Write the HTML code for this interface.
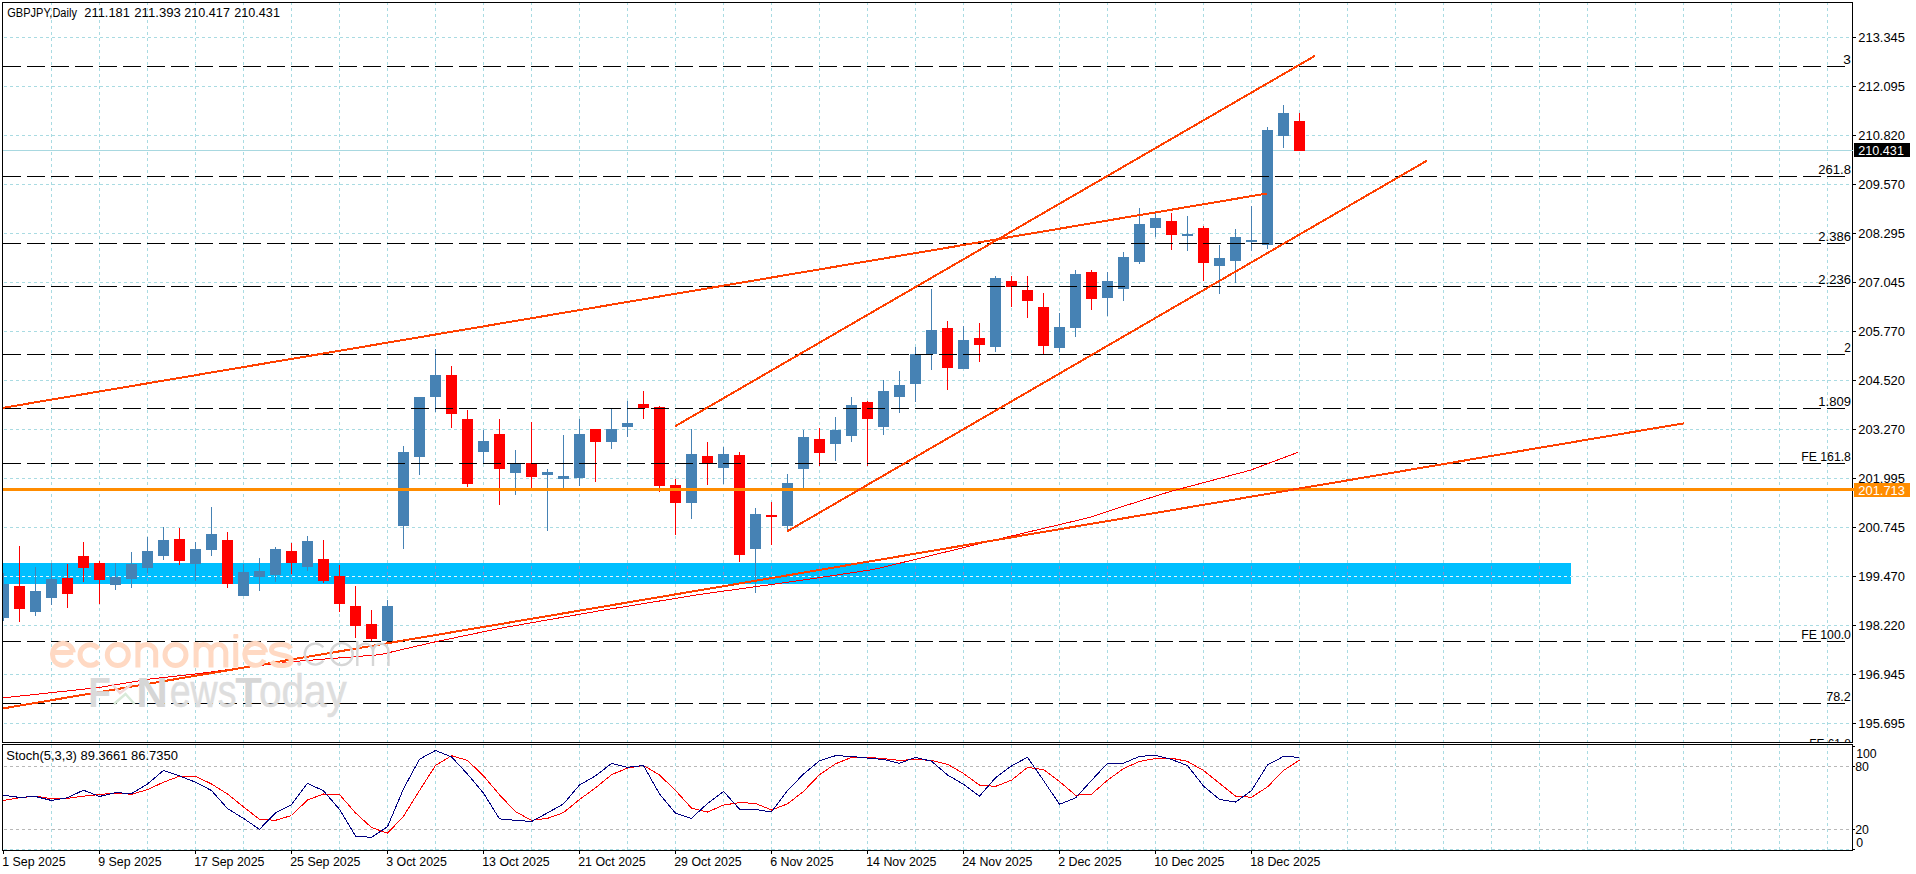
<!DOCTYPE html><html><head><meta charset="utf-8"><style>html,body{margin:0;padding:0;background:#fff;width:1916px;height:874px;overflow:hidden}svg{display:block}text{font-family:"Liberation Sans", sans-serif}</style></head><body>
<svg width="1916" height="874" viewBox="0 0 1916 874">
<defs><clipPath id="cm"><rect x="3" y="3" width="1849" height="739"/></clipPath><clipPath id="cs"><rect x="3" y="745" width="1849" height="105"/></clipPath></defs>
<rect x="0" y="0" width="1916" height="874" fill="#fff"/>
<g clip-path="url(#cm)">
<path d="M4 37.5H1852M4 86.5H1852M4 135.5H1852M4 184.5H1852M4 233.5H1852M4 282.5H1852M4 331.5H1852M4 380.5H1852M4 429.5H1852M4 478.5H1852M4 527.5H1852M4 576.5H1852M4 625.5H1852M4 674.5H1852M4 723.5H1852" stroke="#a9dbe2" stroke-width="1" stroke-dasharray="3 3" fill="none" shape-rendering="crispEdges"/>
<path d="M51.5 2V742M99.5 2V742M147.5 2V742M195.5 2V742M243.5 2V742M291.5 2V742M339.5 2V742M387.5 2V742M435.5 2V742M483.5 2V742M531.5 2V742M579.5 2V742M627.5 2V742M675.5 2V742M723.5 2V742M771.5 2V742M819.5 2V742M867.5 2V742M915.5 2V742M963.5 2V742M1011.5 2V742M1059.5 2V742M1107.5 2V742M1155.5 2V742M1203.5 2V742M1251.5 2V742M1299.5 2V742M1347.5 2V742M1395.5 2V742M1443.5 2V742M1491.5 2V742M1539.5 2V742M1587.5 2V742M1635.5 2V742M1683.5 2V742M1731.5 2V742M1779.5 2V742M1827.5 2V742" stroke="#a9dbe2" stroke-width="1" stroke-dasharray="3 3" fill="none" shape-rendering="crispEdges"/>
<rect x="3" y="563" width="1568" height="21" fill="#00bfff"/>
<path d="M4 576.5H1571" stroke="#e4f6ff" stroke-width="1" stroke-dasharray="3 3" fill="none" shape-rendering="crispEdges"/>
<path d="M51.5 563V584M99.5 563V584M147.5 563V584M195.5 563V584M243.5 563V584M291.5 563V584M339.5 563V584M387.5 563V584M435.5 563V584M483.5 563V584M531.5 563V584M579.5 563V584M627.5 563V584M675.5 563V584M723.5 563V584M771.5 563V584M819.5 563V584M867.5 563V584M915.5 563V584M963.5 563V584M1011.5 563V584M1059.5 563V584M1107.5 563V584M1155.5 563V584M1203.5 563V584M1251.5 563V584M1299.5 563V584M1347.5 563V584M1395.5 563V584M1443.5 563V584M1491.5 563V584M1539.5 563V584" stroke="#7f8fd0" stroke-width="1" stroke-dasharray="3 3" stroke-dashoffset="3" fill="none" shape-rendering="crispEdges"/>
<path d="M3 150.5H1852" stroke="#a8d8e0" stroke-width="1" shape-rendering="crispEdges"/>
<rect x="3" y="573" width="1" height="48" fill="#4682b4"/>
<rect x="-2" y="584" width="11" height="34" fill="#4682b4"/>
<rect x="19" y="546" width="1" height="76" fill="#ff0000"/>
<rect x="14" y="586" width="11" height="23" fill="#ff0000"/>
<rect x="35" y="567" width="1" height="49" fill="#4682b4"/>
<rect x="30" y="591" width="11" height="21" fill="#4682b4"/>
<rect x="51" y="563" width="1" height="42" fill="#4682b4"/>
<rect x="46" y="579" width="11" height="19" fill="#4682b4"/>
<rect x="67" y="564" width="1" height="44" fill="#ff0000"/>
<rect x="62" y="578" width="11" height="16" fill="#ff0000"/>
<rect x="83" y="542" width="1" height="40" fill="#ff0000"/>
<rect x="78" y="556" width="11" height="12" fill="#ff0000"/>
<rect x="99" y="561" width="1" height="43" fill="#ff0000"/>
<rect x="94" y="563" width="11" height="17" fill="#ff0000"/>
<rect x="115" y="563" width="1" height="27" fill="#4682b4"/>
<rect x="110" y="577" width="11" height="8" fill="#4682b4"/>
<rect x="131" y="552" width="1" height="36" fill="#4682b4"/>
<rect x="126" y="564" width="11" height="15" fill="#4682b4"/>
<rect x="147" y="537" width="1" height="36" fill="#4682b4"/>
<rect x="142" y="551" width="11" height="17" fill="#4682b4"/>
<rect x="163" y="527" width="1" height="33" fill="#4682b4"/>
<rect x="158" y="540" width="11" height="16" fill="#4682b4"/>
<rect x="179" y="528" width="1" height="37" fill="#ff0000"/>
<rect x="174" y="539" width="11" height="22" fill="#ff0000"/>
<rect x="195" y="542" width="1" height="39" fill="#4682b4"/>
<rect x="190" y="549" width="11" height="15" fill="#4682b4"/>
<rect x="211" y="507" width="1" height="49" fill="#4682b4"/>
<rect x="206" y="534" width="11" height="16" fill="#4682b4"/>
<rect x="227" y="532" width="1" height="56" fill="#ff0000"/>
<rect x="222" y="540" width="11" height="44" fill="#ff0000"/>
<rect x="243" y="564" width="1" height="32" fill="#4682b4"/>
<rect x="238" y="572" width="11" height="24" fill="#4682b4"/>
<rect x="259" y="558" width="1" height="33" fill="#4682b4"/>
<rect x="254" y="571" width="11" height="6" fill="#4682b4"/>
<rect x="275" y="547" width="1" height="35" fill="#4682b4"/>
<rect x="270" y="549" width="11" height="26" fill="#4682b4"/>
<rect x="291" y="543" width="1" height="31" fill="#ff0000"/>
<rect x="286" y="551" width="11" height="12" fill="#ff0000"/>
<rect x="307" y="536" width="1" height="35" fill="#4682b4"/>
<rect x="302" y="541" width="11" height="26" fill="#4682b4"/>
<rect x="323" y="540" width="1" height="43" fill="#ff0000"/>
<rect x="318" y="559" width="11" height="22" fill="#ff0000"/>
<rect x="339" y="565" width="1" height="47" fill="#ff0000"/>
<rect x="334" y="576" width="11" height="28" fill="#ff0000"/>
<rect x="355" y="586" width="1" height="52" fill="#ff0000"/>
<rect x="350" y="606" width="11" height="20" fill="#ff0000"/>
<rect x="371" y="610" width="1" height="31" fill="#ff0000"/>
<rect x="366" y="624" width="11" height="15" fill="#ff0000"/>
<rect x="387" y="600" width="1" height="41" fill="#4682b4"/>
<rect x="382" y="606" width="11" height="35" fill="#4682b4"/>
<rect x="403" y="446" width="1" height="103" fill="#4682b4"/>
<rect x="398" y="452" width="11" height="74" fill="#4682b4"/>
<rect x="419" y="397" width="1" height="78" fill="#4682b4"/>
<rect x="414" y="397" width="11" height="60" fill="#4682b4"/>
<rect x="435" y="349" width="1" height="63" fill="#4682b4"/>
<rect x="430" y="375" width="11" height="22" fill="#4682b4"/>
<rect x="451" y="366" width="1" height="62" fill="#ff0000"/>
<rect x="446" y="375" width="11" height="39" fill="#ff0000"/>
<rect x="467" y="410" width="1" height="77" fill="#ff0000"/>
<rect x="462" y="419" width="11" height="65" fill="#ff0000"/>
<rect x="483" y="430" width="1" height="34" fill="#4682b4"/>
<rect x="478" y="441" width="11" height="11" fill="#4682b4"/>
<rect x="499" y="419" width="1" height="86" fill="#ff0000"/>
<rect x="494" y="434" width="11" height="35" fill="#ff0000"/>
<rect x="515" y="450" width="1" height="45" fill="#4682b4"/>
<rect x="510" y="464" width="11" height="9" fill="#4682b4"/>
<rect x="531" y="422" width="1" height="67" fill="#ff0000"/>
<rect x="526" y="463" width="11" height="14" fill="#ff0000"/>
<rect x="547" y="469" width="1" height="62" fill="#4682b4"/>
<rect x="542" y="472" width="11" height="3" fill="#4682b4"/>
<rect x="563" y="435" width="1" height="53" fill="#4682b4"/>
<rect x="558" y="476" width="11" height="3" fill="#4682b4"/>
<rect x="579" y="419" width="1" height="67" fill="#4682b4"/>
<rect x="574" y="434" width="11" height="44" fill="#4682b4"/>
<rect x="595" y="429" width="1" height="53" fill="#ff0000"/>
<rect x="590" y="429" width="11" height="13" fill="#ff0000"/>
<rect x="611" y="409" width="1" height="40" fill="#4682b4"/>
<rect x="606" y="429" width="11" height="13" fill="#4682b4"/>
<rect x="627" y="401" width="1" height="36" fill="#4682b4"/>
<rect x="622" y="423" width="11" height="4" fill="#4682b4"/>
<rect x="643" y="391" width="1" height="28" fill="#ff0000"/>
<rect x="638" y="404" width="11" height="4" fill="#ff0000"/>
<rect x="659" y="406" width="1" height="86" fill="#ff0000"/>
<rect x="654" y="407" width="11" height="79" fill="#ff0000"/>
<rect x="675" y="479" width="1" height="56" fill="#ff0000"/>
<rect x="670" y="485" width="11" height="18" fill="#ff0000"/>
<rect x="691" y="429" width="1" height="90" fill="#4682b4"/>
<rect x="686" y="454" width="11" height="49" fill="#4682b4"/>
<rect x="707" y="442" width="1" height="43" fill="#ff0000"/>
<rect x="702" y="456" width="11" height="7" fill="#ff0000"/>
<rect x="723" y="447" width="1" height="37" fill="#4682b4"/>
<rect x="718" y="454" width="11" height="14" fill="#4682b4"/>
<rect x="739" y="452" width="1" height="110" fill="#ff0000"/>
<rect x="734" y="455" width="11" height="100" fill="#ff0000"/>
<rect x="755" y="508" width="1" height="85" fill="#4682b4"/>
<rect x="750" y="514" width="11" height="35" fill="#4682b4"/>
<rect x="771" y="502" width="1" height="43" fill="#ff0000"/>
<rect x="766" y="515" width="11" height="2" fill="#ff0000"/>
<rect x="787" y="474" width="1" height="58" fill="#4682b4"/>
<rect x="782" y="483" width="11" height="43" fill="#4682b4"/>
<rect x="803" y="430" width="1" height="58" fill="#4682b4"/>
<rect x="798" y="437" width="11" height="32" fill="#4682b4"/>
<rect x="819" y="428" width="1" height="38" fill="#ff0000"/>
<rect x="814" y="439" width="11" height="14" fill="#ff0000"/>
<rect x="835" y="417" width="1" height="44" fill="#4682b4"/>
<rect x="830" y="430" width="11" height="14" fill="#4682b4"/>
<rect x="851" y="397" width="1" height="45" fill="#4682b4"/>
<rect x="846" y="405" width="11" height="31" fill="#4682b4"/>
<rect x="867" y="401" width="1" height="65" fill="#ff0000"/>
<rect x="862" y="402" width="11" height="17" fill="#ff0000"/>
<rect x="883" y="380" width="1" height="55" fill="#4682b4"/>
<rect x="878" y="391" width="11" height="36" fill="#4682b4"/>
<rect x="899" y="371" width="1" height="42" fill="#4682b4"/>
<rect x="894" y="385" width="11" height="12" fill="#4682b4"/>
<rect x="915" y="347" width="1" height="55" fill="#4682b4"/>
<rect x="910" y="354" width="11" height="30" fill="#4682b4"/>
<rect x="931" y="289" width="1" height="81" fill="#4682b4"/>
<rect x="926" y="330" width="11" height="24" fill="#4682b4"/>
<rect x="947" y="321" width="1" height="69" fill="#ff0000"/>
<rect x="942" y="328" width="11" height="40" fill="#ff0000"/>
<rect x="963" y="326" width="1" height="43" fill="#4682b4"/>
<rect x="958" y="340" width="11" height="29" fill="#4682b4"/>
<rect x="979" y="323" width="1" height="39" fill="#ff0000"/>
<rect x="974" y="338" width="11" height="7" fill="#ff0000"/>
<rect x="995" y="276" width="1" height="76" fill="#4682b4"/>
<rect x="990" y="278" width="11" height="69" fill="#4682b4"/>
<rect x="1011" y="276" width="1" height="31" fill="#ff0000"/>
<rect x="1006" y="281" width="11" height="6" fill="#ff0000"/>
<rect x="1027" y="276" width="1" height="42" fill="#ff0000"/>
<rect x="1022" y="290" width="11" height="11" fill="#ff0000"/>
<rect x="1043" y="293" width="1" height="61" fill="#ff0000"/>
<rect x="1038" y="307" width="11" height="39" fill="#ff0000"/>
<rect x="1059" y="313" width="1" height="39" fill="#4682b4"/>
<rect x="1054" y="327" width="11" height="21" fill="#4682b4"/>
<rect x="1075" y="270" width="1" height="67" fill="#4682b4"/>
<rect x="1070" y="274" width="11" height="54" fill="#4682b4"/>
<rect x="1091" y="270" width="1" height="40" fill="#ff0000"/>
<rect x="1086" y="272" width="11" height="27" fill="#ff0000"/>
<rect x="1107" y="272" width="1" height="44" fill="#4682b4"/>
<rect x="1102" y="281" width="11" height="17" fill="#4682b4"/>
<rect x="1123" y="252" width="1" height="49" fill="#4682b4"/>
<rect x="1118" y="257" width="11" height="32" fill="#4682b4"/>
<rect x="1139" y="208" width="1" height="56" fill="#4682b4"/>
<rect x="1134" y="224" width="11" height="38" fill="#4682b4"/>
<rect x="1155" y="213" width="1" height="24" fill="#4682b4"/>
<rect x="1150" y="218" width="11" height="10" fill="#4682b4"/>
<rect x="1171" y="213" width="1" height="37" fill="#ff0000"/>
<rect x="1166" y="221" width="11" height="14" fill="#ff0000"/>
<rect x="1187" y="216" width="1" height="35" fill="#4682b4"/>
<rect x="1182" y="234" width="11" height="2" fill="#4682b4"/>
<rect x="1203" y="226" width="1" height="55" fill="#ff0000"/>
<rect x="1198" y="228" width="11" height="35" fill="#ff0000"/>
<rect x="1219" y="245" width="1" height="49" fill="#4682b4"/>
<rect x="1214" y="258" width="11" height="8" fill="#4682b4"/>
<rect x="1235" y="229" width="1" height="54" fill="#4682b4"/>
<rect x="1230" y="237" width="11" height="24" fill="#4682b4"/>
<rect x="1251" y="206" width="1" height="45" fill="#4682b4"/>
<rect x="1246" y="240" width="11" height="2" fill="#4682b4"/>
<rect x="1267" y="127" width="1" height="122" fill="#4682b4"/>
<rect x="1262" y="130" width="11" height="115" fill="#4682b4"/>
<rect x="1283" y="105" width="1" height="43" fill="#4682b4"/>
<rect x="1278" y="113" width="11" height="23" fill="#4682b4"/>
<rect x="1299" y="113" width="1" height="38" fill="#ff0000"/>
<rect x="1294" y="121" width="11" height="30" fill="#ff0000"/>
<path d="M3 66.5H1845M3 176.5H1845M3 243.5H1845M3 286.5H1845M3 354.5H1845M3 408.5H1845M3 463.5H1845M3 641.5H1845M3 703.5H1845M3 750.5H1845" stroke="#000" stroke-width="1" stroke-dasharray="18 6" fill="none" shape-rendering="crispEdges"/>
<text x="1843.3" y="64" font-size="12.3" fill="#000" textLength="7.6" lengthAdjust="spacingAndGlyphs">3</text>
<text x="1818.3" y="174" font-size="12.3" fill="#000" textLength="32.6" lengthAdjust="spacingAndGlyphs">261.8</text>
<text x="1818.3" y="241" font-size="12.3" fill="#000" textLength="32.6" lengthAdjust="spacingAndGlyphs">2.386</text>
<text x="1818.3" y="284" font-size="12.3" fill="#000" textLength="32.6" lengthAdjust="spacingAndGlyphs">2.236</text>
<text x="1844.3" y="352" font-size="12.3" fill="#000" textLength="6.6" lengthAdjust="spacingAndGlyphs">2</text>
<text x="1818.3" y="406" font-size="12.3" fill="#000" textLength="32.6" lengthAdjust="spacingAndGlyphs">1.809</text>
<text x="1801.3" y="461" font-size="12.3" fill="#000" textLength="49.6" lengthAdjust="spacingAndGlyphs">FE 161.8</text>
<text x="1801.3" y="639" font-size="12.3" fill="#000" textLength="49.6" lengthAdjust="spacingAndGlyphs">FE 100.0</text>
<text x="1826.3" y="701" font-size="12.3" fill="#000" textLength="24.6" lengthAdjust="spacingAndGlyphs">78.2</text>
<text x="1809.3" y="748" font-size="12.3" fill="#000" textLength="41.6" lengthAdjust="spacingAndGlyphs">FE 61.8</text>
<rect x="3" y="488" width="1849" height="3" fill="#ff8c00"/>
<polyline points="2,698 100,687.4 150,679 200,673.5 250,666.5 300,661 380,654.7 435,641.9 500,628.3 600,610.7 700,594.4 800,580.5 870,570 880,568 1000,538.7 1090,517.4 1120,507.3 1170,491.6 1250,470.3 1298,452.3" stroke="#ff0000" stroke-width="1" fill="none" shape-rendering="crispEdges"/>
<line x1="2" y1="408" x2="1267" y2="193.5" stroke="#ff4000" stroke-width="2" stroke-linecap="butt" shape-rendering="crispEdges"/>
<line x1="675" y1="426.3" x2="1315" y2="55.8" stroke="#ff4000" stroke-width="2" stroke-linecap="butt" shape-rendering="crispEdges"/>
<line x1="787.3" y1="531.3" x2="1427" y2="160.6" stroke="#ff4000" stroke-width="2" stroke-linecap="butt" shape-rendering="crispEdges"/>
<line x1="2" y1="708.6" x2="1683.8" y2="423.3" stroke="#ff4000" stroke-width="2" stroke-linecap="butt" shape-rendering="crispEdges"/>
</g>
<path d="M52.6 652.5H73.2M73.2 652.5A10.3 10.3 0 0 0 52.6 655A10.3 10.3 0 0 0 71.9944 659.836M98.4165 648.659A10.3 10.3 0 1 0 98.4165 661.341M107.3 655A10.5 10.5 0 1 0 128.3 655A10.5 10.5 0 1 0 107.3 655M137.9 667.5V642.1M137.9 652.6A8.9 8 0 0 1 155.7 652.6V667.5M165 655A10.5 10.5 0 1 0 186 655A10.5 10.5 0 1 0 165 655M196.1 667.5V642.1M196.1 652.1A7.45 7.5 0 0 1 211 652.1V667.5M211 652.1A7.4 7.5 0 0 1 225.8 652.1V667.5M235.75 642.5V667.5M244.9 652.5H265.5M265.5 652.5A10.3 10.3 0 0 0 244.9 655A10.3 10.3 0 0 0 264.294 659.836M290.7 648.6C288.7 644.6 284.7 644.6 281.35 644.6C273 644.6 271.5 647.6 271.5 650.1C271.5 656 291.2 654 291.2 659.9C291.2 663.4 288.7 665.4 281.35 665.4C276 665.4 273 663.9 271.5 661.4" stroke="#ffd9c3" stroke-width="5" fill="none"/>
<rect x="233.3" y="634" width="5" height="4.5" rx="1" fill="#ffd9c3"/>
<path d="M323.343 647.351A10.5 10.5 0 1 0 323.343 660.849M330.7 654.1A11 11 0 1 0 352.7 654.1A11 11 0 1 0 330.7 654.1M357.3 666V641.1M357.3 651.6A7.85 8 0 0 1 373 651.6V666M373 651.6A7.75 8 0 0 1 388.5 651.6V666" stroke="#d6d6d6" stroke-width="2.4" fill="none"/>
<circle cx="299.3" cy="663.8" r="2.1" fill="#d6d6d6"/>
<text x="88.3" y="707.3" font-size="43" fill="#dadada" textLength="22.6" lengthAdjust="spacingAndGlyphs" font-weight="bold">F</text>
<text x="136.3" y="707.3" font-size="43" fill="#d6d6d6" textLength="31.6" lengthAdjust="spacingAndGlyphs" font-weight="bold">N</text>
<text x="169.8" y="707.3" font-size="45.5" fill="#dedede" textLength="66.6" lengthAdjust="spacingAndGlyphs" stroke="#dedede" stroke-width="0.5">ews</text>
<text x="235.3" y="707.3" font-size="43" fill="#d6d6d6" textLength="26.6" lengthAdjust="spacingAndGlyphs" font-weight="bold">T</text>
<text x="258.9" y="707.3" font-size="45.5" fill="#dedede" textLength="87.8" lengthAdjust="spacingAndGlyphs" stroke="#dedede" stroke-width="0.5">oday</text>
<path d="M112 684L120 693L132 684" stroke="#f1d8d8" stroke-width="2.5" fill="none"/>
<path d="M114 704L125.5 694L134.5 704" stroke="#d9ead9" stroke-width="2.5" fill="none"/>
<text x="7.3" y="17" font-size="12.3" fill="#000" textLength="69.6" lengthAdjust="spacingAndGlyphs">GBPJPY,Daily</text>
<text x="84.3" y="17" font-size="12.3" fill="#000" textLength="45.6" lengthAdjust="spacingAndGlyphs">211.181</text>
<text x="134.3" y="17" font-size="12.3" fill="#000" textLength="46.6" lengthAdjust="spacingAndGlyphs">211.393</text>
<text x="184.3" y="17" font-size="12.3" fill="#000" textLength="45.6" lengthAdjust="spacingAndGlyphs">210.417</text>
<text x="234.3" y="17" font-size="12.3" fill="#000" textLength="45.6" lengthAdjust="spacingAndGlyphs">210.431</text>
<path d="M2.5 2.5H1852.5V742.5H2.5Z M2.5 744.5H1852.5V850.5H2.5Z" stroke="#000" stroke-width="1" fill="none" shape-rendering="crispEdges"/>
<text x="1858.3" y="42" font-size="12.3" fill="#000" textLength="46.6" lengthAdjust="spacingAndGlyphs">213.345</text>
<text x="1858.3" y="91" font-size="12.3" fill="#000" textLength="46.6" lengthAdjust="spacingAndGlyphs">212.095</text>
<text x="1858.3" y="140" font-size="12.3" fill="#000" textLength="46.6" lengthAdjust="spacingAndGlyphs">210.820</text>
<text x="1858.3" y="189" font-size="12.3" fill="#000" textLength="46.6" lengthAdjust="spacingAndGlyphs">209.570</text>
<text x="1858.3" y="238" font-size="12.3" fill="#000" textLength="46.6" lengthAdjust="spacingAndGlyphs">208.295</text>
<text x="1858.3" y="287" font-size="12.3" fill="#000" textLength="46.6" lengthAdjust="spacingAndGlyphs">207.045</text>
<text x="1858.3" y="336" font-size="12.3" fill="#000" textLength="46.6" lengthAdjust="spacingAndGlyphs">205.770</text>
<text x="1858.3" y="385" font-size="12.3" fill="#000" textLength="46.6" lengthAdjust="spacingAndGlyphs">204.520</text>
<text x="1858.3" y="434" font-size="12.3" fill="#000" textLength="46.6" lengthAdjust="spacingAndGlyphs">203.270</text>
<text x="1858.3" y="483" font-size="12.3" fill="#000" textLength="46.6" lengthAdjust="spacingAndGlyphs">201.995</text>
<text x="1858.3" y="532" font-size="12.3" fill="#000" textLength="46.6" lengthAdjust="spacingAndGlyphs">200.745</text>
<text x="1858.3" y="581" font-size="12.3" fill="#000" textLength="46.6" lengthAdjust="spacingAndGlyphs">199.470</text>
<text x="1858.3" y="630" font-size="12.3" fill="#000" textLength="46.6" lengthAdjust="spacingAndGlyphs">198.220</text>
<text x="1858.3" y="679" font-size="12.3" fill="#000" textLength="46.6" lengthAdjust="spacingAndGlyphs">196.945</text>
<text x="1858.3" y="728" font-size="12.3" fill="#000" textLength="46.6" lengthAdjust="spacingAndGlyphs">195.695</text>
<path d="M1853 37.5H1856M1853 86.5H1856M1853 135.5H1856M1853 184.5H1856M1853 233.5H1856M1853 282.5H1856M1853 331.5H1856M1853 380.5H1856M1853 429.5H1856M1853 478.5H1856M1853 527.5H1856M1853 576.5H1856M1853 625.5H1856M1853 674.5H1856M1853 723.5H1856" stroke="#000" stroke-width="1" shape-rendering="crispEdges"/>
<rect x="1851" y="150" width="2" height="1" fill="#a8d8e0"/>
<rect x="1851" y="488" width="3" height="3" fill="#ff8c00"/>
<rect x="1854" y="143" width="56" height="14" fill="#000"/>
<text x="1858.3" y="155" font-size="12.3" fill="#fff" textLength="45.6" lengthAdjust="spacingAndGlyphs">210.431</text>
<rect x="1854" y="483" width="56" height="14" fill="#ff8c00"/>
<text x="1858.3" y="495" font-size="12.3" fill="#fff" textLength="46.6" lengthAdjust="spacingAndGlyphs">201.713</text>
<g clip-path="url(#cs)">
<path d="M51.5 745V850M99.5 745V850M147.5 745V850M195.5 745V850M243.5 745V850M291.5 745V850M339.5 745V850M387.5 745V850M435.5 745V850M483.5 745V850M531.5 745V850M579.5 745V850M627.5 745V850M675.5 745V850M723.5 745V850M771.5 745V850M819.5 745V850M867.5 745V850M915.5 745V850M963.5 745V850M1011.5 745V850M1059.5 745V850M1107.5 745V850M1155.5 745V850M1203.5 745V850M1251.5 745V850M1299.5 745V850M1347.5 745V850M1395.5 745V850M1443.5 745V850M1491.5 745V850M1539.5 745V850M1587.5 745V850M1635.5 745V850M1683.5 745V850M1731.5 745V850M1779.5 745V850M1827.5 745V850" stroke="#a9dbe2" stroke-width="1" stroke-dasharray="3 3" fill="none" shape-rendering="crispEdges"/>
<path d="M4 849.5H1852" stroke="#a9dbe2" stroke-width="1" stroke-dasharray="3 3" fill="none" shape-rendering="crispEdges"/>
<path d="M4 766.5H1852M4 829.5H1852" stroke="#b8b8b8" stroke-width="1" stroke-dasharray="3 3" fill="none" shape-rendering="crispEdges"/>
<polyline points="3.5,800.5 19.5,797.7 35.5,796.2 51.5,798.8 67.5,798.3 83.5,796.2 99.5,794.5 115.5,793.1 131.5,794.3 147.5,789.6 163.5,782.2 179.5,776.2 195.5,776.2 211.5,784 227.5,794 243.5,806.9 259.5,819.3 275.5,820.3 291.5,815.5 307.5,800 323.5,794 339.5,794.5 355.5,812.9 371.5,827.5 387.5,833.2 403.5,816.3 419.5,790.5 435.5,765.5 451.5,755.7 467.5,760.4 483.5,775.9 499.5,794.8 515.5,811.7 531.5,820.3 547.5,818.4 563.5,812.6 579.5,799.5 595.5,787.9 611.5,774.7 627.5,768.1 643.5,765.5 659.5,775 675.5,790.5 691.5,808.1 707.5,812 723.5,805.1 739.5,802.6 755.5,803.4 771.5,810 787.5,803.9 803.5,791.4 819.5,774.7 835.5,763.8 851.5,757.4 867.5,757.3 883.5,758.6 899.5,760.4 915.5,759.5 931.5,760.4 947.5,764.3 963.5,773.5 979.5,785.1 995.5,786.4 1011.5,780.2 1027.5,767.4 1043.5,769.6 1059.5,781.5 1075.5,795.2 1091.5,794.2 1107.5,780.2 1123.5,768.7 1139.5,761.4 1155.5,758.6 1171.5,758.2 1187.5,761.4 1203.5,770.5 1219.5,783.3 1235.5,796.1 1251.5,797.3 1267.5,786.9 1283.5,770.5 1299.5,760.1" stroke="#ff0000" stroke-width="1" fill="none" shape-rendering="crispEdges"/>
<polyline points="3.5,795.3 19.5,797.4 35.5,796.5 51.5,800.5 67.5,797.7 83.5,790.2 99.5,796.5 115.5,792.6 131.5,793.6 147.5,784 163.5,770.4 179.5,775.9 195.5,782.2 211.5,790.5 227.5,808.6 243.5,818.4 259.5,829.3 275.5,812.9 291.5,804.6 307.5,783.3 323.5,790.8 339.5,809.4 355.5,836.1 371.5,837.4 387.5,826.7 403.5,788.8 419.5,759.2 435.5,750.5 451.5,756.9 467.5,774.1 483.5,793.1 499.5,818.9 515.5,820.3 531.5,821.5 547.5,812.9 563.5,803.9 579.5,785 595.5,775.9 611.5,763.5 627.5,767.3 643.5,765.5 659.5,794 675.5,813.2 691.5,818.4 707.5,803.4 723.5,791.4 739.5,809.1 755.5,809.4 771.5,812 787.5,790.5 803.5,774.1 819.5,760.7 835.5,755.7 851.5,756.4 867.5,758.1 883.5,759.5 899.5,763.3 915.5,757.4 931.5,761.2 947.5,775 963.5,784.3 979.5,796.1 995.5,777.8 1011.5,765.9 1027.5,757.3 1043.5,780.5 1059.5,804.3 1075.5,797.9 1091.5,780.5 1107.5,763.2 1123.5,763.2 1139.5,756.4 1155.5,755.3 1171.5,759.5 1187.5,765.6 1203.5,786 1219.5,799.4 1235.5,802.1 1251.5,790.6 1267.5,765 1283.5,756.4 1299.5,757.3" stroke="#000080" stroke-width="1" fill="none" shape-rendering="crispEdges"/>
</g>
<text x="6.3" y="760" font-size="12.3" fill="#000" textLength="171.6" lengthAdjust="spacingAndGlyphs">Stoch(5,3,3) 89.3661 86.7350</text>
<text x="1856.2" y="758" font-size="12.3" fill="#000">100</text>
<text x="1855.2" y="770.5" font-size="12.3" fill="#000">80</text>
<text x="1855.2" y="833.5" font-size="12.3" fill="#000">20</text>
<text x="1856.2" y="847" font-size="12.3" fill="#000">0</text>
<path d="M1853 746.5H1855M1853 849.5H1855M1853 766.5H1855M1853 829.5H1855" stroke="#000" stroke-width="1" shape-rendering="crispEdges"/>
<text x="2.2" y="866" font-size="12.4" fill="#000">1 Sep 2025</text>
<text x="98.2" y="866" font-size="12.4" fill="#000">9 Sep 2025</text>
<text x="194.2" y="866" font-size="12.4" fill="#000">17 Sep 2025</text>
<text x="290.2" y="866" font-size="12.4" fill="#000">25 Sep 2025</text>
<text x="386.2" y="866" font-size="12.4" fill="#000">3 Oct 2025</text>
<text x="482.2" y="866" font-size="12.4" fill="#000">13 Oct 2025</text>
<text x="578.2" y="866" font-size="12.4" fill="#000">21 Oct 2025</text>
<text x="674.2" y="866" font-size="12.4" fill="#000">29 Oct 2025</text>
<text x="770.2" y="866" font-size="12.4" fill="#000">6 Nov 2025</text>
<text x="866.2" y="866" font-size="12.4" fill="#000">14 Nov 2025</text>
<text x="962.2" y="866" font-size="12.4" fill="#000">24 Nov 2025</text>
<text x="1058.2" y="866" font-size="12.4" fill="#000">2 Dec 2025</text>
<text x="1154.2" y="866" font-size="12.4" fill="#000">10 Dec 2025</text>
<text x="1250.2" y="866" font-size="12.4" fill="#000">18 Dec 2025</text>
<path d="M3.5 850V854M99.5 850V854M195.5 850V854M291.5 850V854M387.5 850V854M483.5 850V854M579.5 850V854M675.5 850V854M771.5 850V854M867.5 850V854M963.5 850V854M1059.5 850V854M1155.5 850V854M1251.5 850V854" stroke="#000" stroke-width="1" shape-rendering="crispEdges"/>
</svg></body></html>
